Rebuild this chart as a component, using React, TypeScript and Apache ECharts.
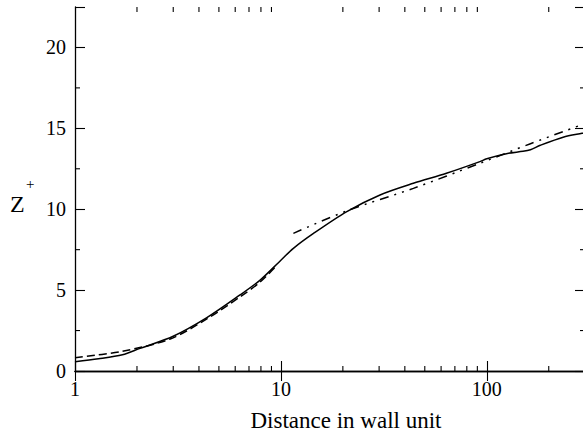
import React, { useEffect, useRef } from "react";
import * as echarts from "echarts";

// Solid curve (distance in wall units, Z+)
const solidDist = [1, 1.3, 1.7, 2.07, 3.0, 4.37, 6.33, 7.93, 10, 11.5, 14.4, 20.9, 30.3, 44, 63.7, 92.6, 100, 126, 150, 163, 182, 235, 290, 300];
const solidZ = [0.57, 0.75, 1.0, 1.4, 2.15, 3.3, 4.7, 5.62, 6.85, 7.58, 8.5, 9.85, 10.88, 11.6, 12.22, 12.94, 13.12, 13.45, 13.58, 13.68, 13.95, 14.45, 14.69, 14.72];

// Dashed curve
const dashedDist = [1, 1.7, 2.9, 4.37, 6.33, 7.93, 9.6];
const dashedZ = [0.82, 1.22, 1.98, 3.22, 4.58, 5.5, 6.55];

// Dash-dot-dot curve
const dashDotDist = [11.5, 20.9, 44, 92.6, 163, 235, 300];
const dashDotZ = [8.51, 9.9, 11.29, 12.84, 14.05, 14.8, 15.3];

// Axis settings / tick values
const X_MIN = 1;
const X_MAX = 300;
const Y_MIN = 0;
const Y_MAX = 22.5;
const xMinorTicks = [2, 3, 4, 5, 6, 7, 8, 9, 20, 30, 40, 50, 60, 70, 80, 90, 200];
const yMinorTicks = [2.5, 7.5, 12.5, 17.5];

const FONT = "'Liberation Serif', 'Times New Roman', Times, serif";

const zip = (a: number[], b: number[]) => a.map((v, i) => [v, b[i]]);

export default function App() {
  const ref = useRef<HTMLDivElement>(null);

  useEffect(() => {
    if (!ref.current) return;
    const chart = echarts.init(ref.current, undefined, { renderer: "svg" });

    const axisLine = { show: true, lineStyle: { color: "#000", width: 1.3 } };
    const tickStyle = { color: "#000", width: 1.1 };

    const xLabelFmt = (v: number) => {
      const l = Math.log10(v);
      return Math.abs(l - Math.round(l)) < 1e-6 && v <= 100 ? String(Math.round(Math.pow(10, l))) : "";
    };

    const option: any = {
      animation: false,
      backgroundColor: "#fff",
      textStyle: { fontFamily: FONT },
      grid: { left: 75, top: 7, width: 510, height: 364, containLabel: false, outerBoundsMode: "none" },
      xAxis: [
        {
          type: "log",
          logBase: 10,
          min: X_MIN,
          max: X_MAX,
          position: "bottom",
          axisLine,
          axisTick: { show: true, inside: true, length: 10, lineStyle: tickStyle },
          axisLabel: { show: true, margin: 8, color: "#000", fontFamily: FONT, fontSize: 20, formatter: xLabelFmt },
          splitLine: { show: false },
          minorTick: { show: false },
        },
        {
          type: "log",
          logBase: 10,
          min: X_MIN,
          max: X_MAX,
          position: "top",
          axisLine,
          axisTick: { show: true, inside: true, length: 10, lineStyle: tickStyle },
          axisLabel: { show: false },
          splitLine: { show: false },
        },
      ],
      yAxis: [
        {
          type: "value",
          min: Y_MIN,
          max: Y_MAX,
          interval: 5,
          position: "left",
          axisLine,
          axisTick: { show: true, inside: true, length: 10, lineStyle: tickStyle },
          axisLabel: {
            show: true,
            margin: 9,
            color: "#000",
            fontFamily: FONT,
            fontSize: 20,
            formatter: (v: number) => (v % 5 === 0 && v <= 20 ? String(v) : ""),
          },
          splitLine: { show: false },
        },
        {
          type: "value",
          min: Y_MIN,
          max: Y_MAX,
          interval: 5,
          position: "right",
          axisLine,
          axisTick: { show: true, inside: true, length: 10, lineStyle: tickStyle },
          axisLabel: { show: false },
          splitLine: { show: false },
        },
      ],
      graphic: [
        {
          type: "text",
          x: 346,
          y: 420,
          style: { text: "Distance in wall unit", fontFamily: FONT, fontSize: 23, fill: "#000", align: "center", verticalAlign: "middle" },
        },
        {
          type: "text",
          x: 10,
          y: 204,
          style: { text: "Z", fontFamily: FONT, fontSize: 24, fill: "#000", align: "left", verticalAlign: "middle" },
        },
        {
          type: "text",
          x: 26,
          y: 184,
          style: { text: "+", fontFamily: FONT, fontSize: 15, fill: "#000", align: "left", verticalAlign: "middle" },
        },
      ],
      series: [
        {
          type: "line",
          data: zip(solidDist, solidZ),
          showSymbol: false,
          smooth: 0.3,
          lineStyle: { color: "#000", width: 1.5, type: "solid" },
          z: 3,
        },
        {
          type: "line",
          data: zip(dashedDist, dashedZ),
          showSymbol: false,
          smooth: 0.3,
          lineStyle: { color: "#000", width: 1.5, type: [8, 4] },
          z: 2,
        },
        {
          type: "line",
          data: zip(dashDotDist, dashDotZ),
          showSymbol: false,
          smooth: 0.3,
          lineStyle: { color: "#000", width: 1.5, type: [9, 6, 2, 6, 2, 6] },
          z: 2,
        },
        {
          type: "custom",
          silent: true,
          clip: false,
          data: xMinorTicks.map((v) => [v, 0]),
          renderItem: (_params: any, api: any) => {
            const v = api.value(0);
            const b = api.coord([v, Y_MIN]);
            const t = api.coord([v, Y_MAX]);
            const st = { stroke: "#000", lineWidth: 1.1 };
            return {
              type: "group",
              children: [
                { type: "line", shape: { x1: b[0], y1: b[1], x2: b[0], y2: b[1] - 5 }, style: st },
                { type: "line", shape: { x1: t[0], y1: t[1], x2: t[0], y2: t[1] + 5 }, style: st },
              ],
            };
          },
          z: 5,
        },
        {
          type: "custom",
          silent: true,
          clip: false,
          data: yMinorTicks.map((v) => [X_MIN, v]),
          renderItem: (_params: any, api: any) => {
            const v = api.value(1);
            const l = api.coord([X_MIN, v]);
            const r = api.coord([X_MAX, v]);
            const st = { stroke: "#000", lineWidth: 1.1 };
            return {
              type: "group",
              children: [
                { type: "line", shape: { x1: l[0], y1: l[1], x2: l[0] + 5, y2: l[1] }, style: st },
                { type: "line", shape: { x1: r[0], y1: r[1], x2: r[0] - 5, y2: r[1] }, style: st },
              ],
            };
          },
          z: 5,
        },
      ],
    };

    chart.setOption(option);
    return () => chart.dispose();
  }, []);

  return <div ref={ref} style={{ position: "absolute", left: 0, top: 0, width: 583, height: 433 }} />;
}
